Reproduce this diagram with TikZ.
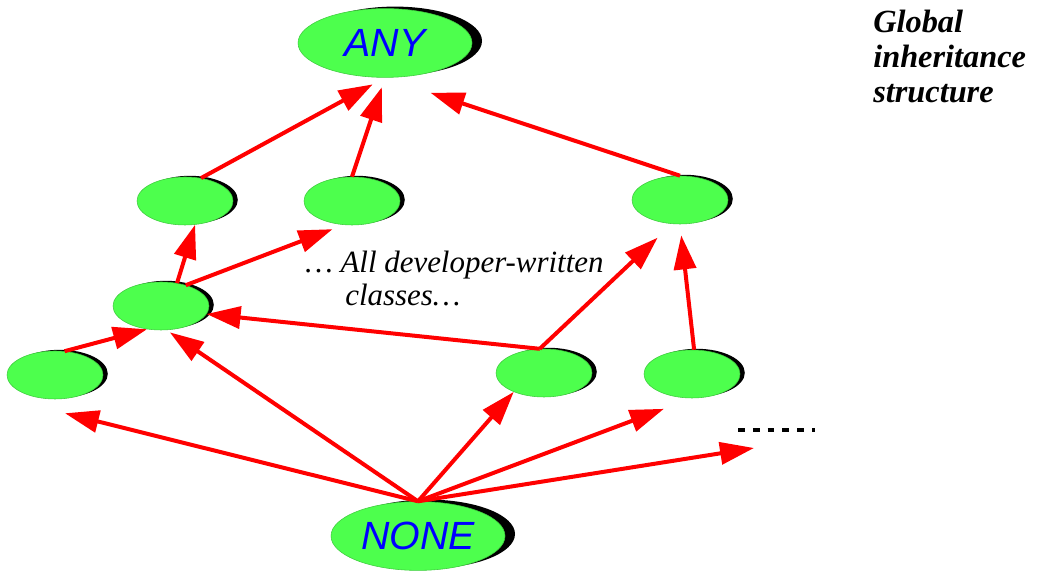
\documentclass[tikz,border=0pt]{standalone}
\usepackage{fontspec}
\setmainfont{Liberation Serif}
\setsansfont{Liberation Sans}
\usepackage{tikz}
\usetikzlibrary{arrows.meta,positioning,shapes.geometric,shadows}
\definecolor{inhgreen}{RGB}{77,255,77}
\definecolor{inhred}{RGB}{255,0,0}
\definecolor{inhblue}{RGB}{0,0,255}

\begin{document}
\begin{tikzpicture}[
    cls/.style={ellipse, draw=inhgreen!80!black, fill=inhgreen,
                minimum width=2.4cm, minimum height=1.2cm, inner sep=0pt,
                general shadow={fill=black, shadow xshift=0.12cm,
                                shadow yshift=0.03cm}},
    root/.style={ellipse, draw=inhgreen!80!black, fill=inhgreen,
                 minimum width=4.35cm, minimum height=1.72cm, inner sep=0pt,
                 text=inhblue, font=\sffamily\itshape\fontsize{28}{32}\selectfont,
                 general shadow={fill=black, shadow xshift=0.25cm,
                                 shadow yshift=0.05cm}},
    arr/.style={-{Triangle[length=0.85cm, width=0.55cm]}, inhred,
                line width=0.1cm},
    etc/.style={black, line width=2.2pt, dash pattern=on 0.17cm off 0.2cm},
  ]
  \useasboundingbox (0,0) rectangle (25.975,14.3);

  % Korijeni
  \node[root] (any) at (9.625, 13.225) {ANY};
  \node[root] (none) at (10.45, 0.9) {NONE};

  % Klase
  \node[cls] (e1) at (4.625, 9.275) {};
  \node[cls] (e2) at (8.8, 9.275) {};
  \node[cls] (e3) at (17.0, 9.3) {};
  \node[cls] (e4) at (4.025, 6.65) {};
  \node[cls] (e5) at (1.375, 4.925) {};
  \node[cls] (e6) at (13.6, 4.975) {};
  \node[cls] (e7) at (17.3, 4.95) {};

  % Tekst
  \node[anchor=north west, inner sep=0pt, align=left,
        font=\itshape\fontsize{22}{23.5}\selectfont] (dev) at (7.625, 8.025)
    {\ldots\ All developer-written\\\hspace*{1cm}classes\ldots};
  \node[anchor=north west, inner sep=0pt, align=left,
        font=\bfseries\itshape\fontsize{23}{25}\selectfont] (title) at (21.825, 14.05)
    {Global\\inheritance\\structure};

  % Prema ANY
  \draw[arr, shorten >=0.35cm] (e1.55) -- (any.south);
  \draw[arr, shorten >=0.25cm] (e2.north) -- (any.south);
  \draw[arr, shorten >=1.2cm] (e3.north) -- (any.south);

  % Sredina
  \draw[arr] (e4.55) -- (e1.293);
  \draw[arr, shorten >=0.3cm] (e4.40) -- (e2.251);
  \draw[arr] (e6.100) -- (e4.350);
  \draw[arr, shorten >=0.5cm] (e6.100) -- (e3.252);
  \draw[arr, shorten >=0.28cm] (e7.85) -- (e3.south);
  \draw[arr] (e5.68) -- (e4.239);

  % Iz NONE
  \coordinate (more) at (18.85, 3.1);
  \draw[arr] (none.north) -- ([shift={(0.25,-0.35)}]e5.south);
  \draw[arr, shorten >=0.1cm] (none.north) -- (e4.283);
  \draw[arr] (none.north) -- (e6.212);
  \draw[arr, shorten >=0.75cm] (none.north) -- (e7.south);
  \draw[arr] (none.north) -- (more);

  % Ostalo
  \coordinate (etc-a) at (18.45, 3.55);
  \coordinate (etc-b) at (20.375, 3.55);
  \draw[etc] (etc-a) -- (etc-b);
\end{tikzpicture}
\end{document}
